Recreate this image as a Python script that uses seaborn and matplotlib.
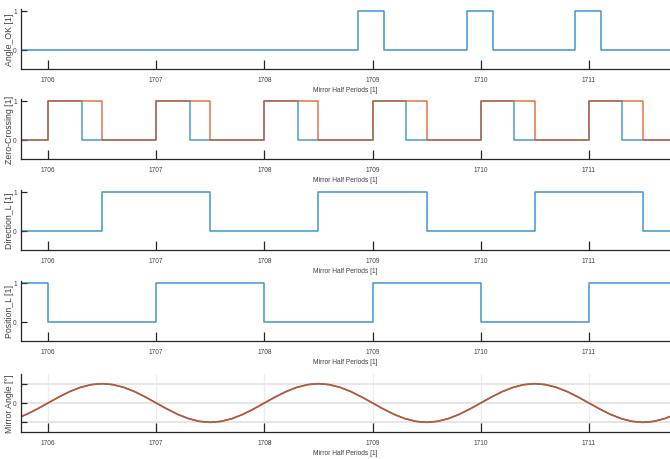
import matplotlib
matplotlib.use("Agg")
import matplotlib.pyplot as plt
import seaborn as sns
import pandas as pd

# ---------------- data ----------------
x_ticks = [1706, 1707, 1708, 1709, 1710, 1711]
x_tick_labels = ["1706", "1707", "1708", "1709", "1710", "1711"]
x_range = [1705.75, 1711.75]

angle_ok_t = [1705.75, 1708.87, 1709.11, 1709.87, 1710.11, 1710.87, 1711.11, 1711.75]
angle_ok_v = [0, 1, 0, 1, 0, 1, 0, 0]

zc_a_t = [1705.75, 1706.0, 1706.31, 1707.0, 1707.31, 1708.0, 1708.31, 1709.0, 1709.31,
          1710.0, 1710.31, 1711.0, 1711.31, 1711.75]
zc_a_v = [0, 1, 0, 1, 0, 1, 0, 1, 0, 1, 0, 1, 0, 0]
zc_b_t = [1705.75, 1706.0, 1706.5, 1707.0, 1707.5, 1708.0, 1708.5, 1709.0, 1709.5,
          1710.0, 1710.5, 1711.0, 1711.5, 1711.75]
zc_b_v = [0, 1, 0, 1, 0, 1, 0, 1, 0, 1, 0, 1, 0, 0]

dir_t = [1705.75, 1706.5, 1707.5, 1708.5, 1709.5, 1710.5, 1711.5, 1711.75]
dir_v = [0, 1, 0, 1, 0, 1, 0, 0]

pos_t = [1705.75, 1706.0, 1707.0, 1708.0, 1709.0, 1710.0, 1711.0, 1711.75]
pos_v = [1, 0, 1, 0, 1, 0, 1, 1]

angle_t = [1705.7, 1705.8, 1705.9,
           1706.0, 1706.1, 1706.2, 1706.3, 1706.4, 1706.5, 1706.6, 1706.7, 1706.8, 1706.9,
           1707.0, 1707.1, 1707.2, 1707.3, 1707.4, 1707.5, 1707.6, 1707.7, 1707.8, 1707.9,
           1708.0, 1708.1, 1708.2, 1708.3, 1708.4, 1708.5, 1708.6, 1708.7, 1708.8, 1708.9,
           1709.0, 1709.1, 1709.2, 1709.3, 1709.4, 1709.5, 1709.6, 1709.7, 1709.8, 1709.9,
           1710.0, 1710.1, 1710.2, 1710.3, 1710.4, 1710.5, 1710.6, 1710.7, 1710.8, 1710.9,
           1711.0, 1711.1, 1711.2, 1711.3, 1711.4, 1711.5, 1711.6, 1711.7, 1711.8]
angle_v = [-0.81, -0.59, -0.31,
           0.0, 0.31, 0.59, 0.81, 0.95, 1.0, 0.95, 0.81, 0.59, 0.31,
           0.0, -0.31, -0.59, -0.81, -0.95, -1.0, -0.95, -0.81, -0.59, -0.31,
           0.0, 0.31, 0.59, 0.81, 0.95, 1.0, 0.95, 0.81, 0.59, 0.31,
           0.0, -0.31, -0.59, -0.81, -0.95, -1.0, -0.95, -0.81, -0.59, -0.31,
           0.0, 0.31, 0.59, 0.81, 0.95, 1.0, 0.95, 0.81, 0.59, 0.31,
           0.0, -0.31, -0.59, -0.81, -0.95, -1.0, -0.95, -0.81, -0.59]

panel_labels = ["Angle_OK [1]", "Zero-Crossing [1]", "Direction_L [1]", "Position_L [1]", "Mirror Angle [°]"]
xlabel = "Mirror Half Periods [1]"

# ---------------- style ----------------
sns.set_style("ticks")
plt.rcParams["font.family"] = ["Liberation Sans", "DejaVu Sans"]

BLUE = "#0072BD"
ORANGE = "#D95319"
AX_COL = "#262626"

fig = plt.figure(figsize=(6.7, 4.6), dpi=100)

# [left, bottom, width, height] in figure fractions
L = 21 / 670
W = 1 - L
rects = [
    (L, 1 - 70 / 460, W, 60 / 460),
    (L, 1 - 160 / 460, W, 60 / 460),
    (L, 1 - 251 / 460, W, 60 / 460),
    (L, 1 - 342 / 460, W, 60 / 460),
    (L, 1 - 433 / 460, W, 58 / 460),
]
axes = [fig.add_axes(r) for r in rects]


def step(ax, t, v, color, alpha=1.0):
    df = pd.DataFrame({"t": t, "v": v})
    sns.lineplot(data=df, x="t", y="v", ax=ax, color=color, estimator=None,
                 drawstyle="steps-post", linewidth=1.1, alpha=alpha, sort=False)


step(axes[0], angle_ok_t, angle_ok_v, BLUE, 0.75)
step(axes[1], zc_a_t, zc_a_v, BLUE, 0.7)
step(axes[1], zc_b_t, zc_b_v, ORANGE, 0.8)
step(axes[2], dir_t, dir_v, BLUE, 0.75)
step(axes[3], pos_t, pos_v, BLUE, 0.75)

df_ang = pd.DataFrame({"t": angle_t, "v": angle_v})
sns.lineplot(data=df_ang, x="t", y="v", ax=axes[4], color=BLUE, estimator=None,
             linewidth=1.1, sort=False)
sns.lineplot(data=df_ang, x="t", y="v", ax=axes[4], color=ORANGE, estimator=None,
             linewidth=1.1, alpha=0.97, sort=False)

for i, ax in enumerate(axes):
    ax.set_xlim(*x_range)
    ax.set_xticks(x_ticks)
    ax.set_xticklabels(x_tick_labels)
    if i < 4:
        ax.set_ylim(-0.5, 1.05)
        ax.set_yticks([0, 1])
        ax.set_yticklabels(["0", "1"])
    else:
        ax.set_ylim(-1.5, 1.5)
        ax.set_yticks([-1, 0, 1])
        ax.set_yticklabels(["", "0", ""])
        ax.grid(True, axis="y", color="#e6e6e6", linewidth=1.4)
        ax.grid(True, axis="x", color="#ececec", linewidth=0.9)
        ax.set_axisbelow(True)
    for s in ["top", "right"]:
        ax.spines[s].set_visible(False)
    for s in ["left", "bottom"]:
        ax.spines[s].set_color(AX_COL)
        ax.spines[s].set_linewidth(0.9)
    ax.tick_params(axis="x", direction="in", length=6.5, width=0.9, colors=AX_COL,
                   labelsize=4.7, pad=5, labelcolor="#404040")
    ax.tick_params(axis="y", direction="in", length=4.5, width=0.9, colors=AX_COL,
                   labelsize=4.8, pad=3, labelcolor="#404040")
    ax.set_xlabel(xlabel, fontsize=4.8, color="#404040", labelpad=2.5)
    ax.set_ylabel(panel_labels[i], fontsize=6.3, color="#404040")
    ax.yaxis.set_label_coords(-0.0105, 0.5)
    ax.set_facecolor("white")

fig.savefig("out.png", dpi=100, facecolor="white")
